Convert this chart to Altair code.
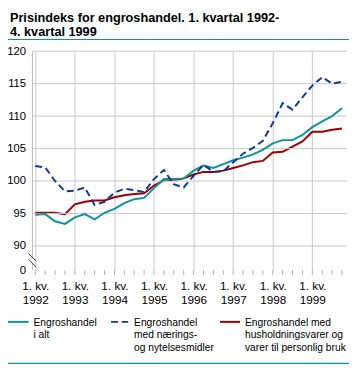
import altair as alt
import pandas as pd

# ---- data (quarterly, 1. kv. 1992 - 4. kv. 1999) ----
quarters = list(range(32))
i_alt = [94.8, 94.9, 93.8, 93.4, 94.4, 94.9, 94.1, 95.1,
         95.7, 96.6, 97.2, 97.4, 98.9, 100.3, 100.3, 100.4,
         101.6, 102.4, 102.0, 102.6, 103.2, 103.6, 104.1, 104.8,
         105.8, 106.3, 106.3, 107.1, 108.3, 109.2, 110.0, 111.2]
naering = [102.3, 102.1, 100.0, 98.4, 98.5, 99.0, 96.3, 96.8,
           98.2, 98.8, 98.6, 98.3, 100.3, 101.7, 99.5, 99.0,
           100.8, 102.5, 101.4, 101.5, 102.9, 104.2, 105.1, 106.2,
           108.9, 112.0, 111.0, 112.9, 114.7, 116.0, 115.0, 115.3]
husholdning = [95.1, 95.1, 95.1, 94.9, 96.4, 96.8, 97.0, 97.0,
               97.5, 97.8, 98.0, 98.1, 99.3, 100.1, 100.1, 100.4,
               101.0, 101.4, 101.4, 101.6, 102.0, 102.4, 102.9, 103.1,
               104.4, 104.5, 105.3, 106.1, 107.6, 107.6, 107.9, 108.1]

legend_lines = [["Engroshandel", "i alt"],
                ["Engroshandel", "med nærings-", "og nytelsesmidler"],
                ["Engroshandel med", "husholdningsvarer og", "varer til personlig bruk"]]
title_lines = ["Prisindeks for engroshandel. 1. kvartal 1992-", "4. kvartal 1999"]
year_ticks = [0, 4, 8, 12, 16, 20, 24, 28]
y_ticks = [90, 95, 100, 105, 110, 115, 120]
Y_BREAK = 86.27  # drawn as "0" below the axis break

TEAL, BLUE, RED = "#0a9696", "#0b3a9a", "#9c0000"
GRID = "#c8c8c8"
FONT = "Liberation Sans"

W, H = 322, 224

xscale = alt.Scale(domain=[-0.29, 31.51], nice=False, zero=False)
yscale = alt.Scale(domain=[Y_BREAK, 120], nice=False, zero=False)

df = pd.DataFrame({"q": quarters, "i_alt": i_alt, "naering": naering, "hush": husholdning})
one = pd.DataFrame({"a": [0]})

x_axis = alt.Axis(values=year_ticks, grid=True, gridColor=GRID, gridWidth=1,
                  domain=False, ticks=False, tickSize=0, title=None,
                  labelExpr="['1. kv.', '' + (1992 + datum.value / 4)]",
                  labelFont=FONT, labelFontSize=12, labelColor="#000000",
                  labelBaseline="alphabetic", labelPadding=20, labelLineHeight=14,
                  labelAlign="center")
y_axis = alt.Axis(values=[Y_BREAK] + y_ticks, grid=False, domain=False, ticks=False,
                  tickSize=0, title=None,
                  labelExpr="datum.value < 87 ? '0' : datum.label",
                  labelFont=FONT, labelFontSize=11.5, labelColor="#000000",
                  labelPadding=7)

def X(field):
    return alt.X(field, scale=xscale, axis=x_axis, title=None)

def Y(field):
    return alt.Y(field, scale=yscale, axis=y_axis, title=None)

base = alt.Chart(df)

red_line = base.mark_line(color=RED, strokeWidth=2).encode(x=X("q:Q"), y=Y("hush:Q"))
teal_line = base.mark_line(color=TEAL, strokeWidth=2).encode(x=X("q:Q"), y=Y("i_alt:Q"))
blue_line = base.mark_line(color=BLUE, strokeWidth=2, strokeDash=[7, 4]).encode(
    x=X("q:Q"), y=Y("naering:Q"))

hgrid = alt.Chart(pd.DataFrame({"v": y_ticks})).mark_rule(color=GRID, strokeWidth=1).encode(
    y=Y("v:Q"))
qticks = alt.Chart(pd.DataFrame({"q": quarters})).mark_rule(color="#b0b0b0", strokeWidth=1).encode(
    x=X("q:Q"), y=alt.value(H), y2=alt.value(H + 5))

def seg(x1, y1, x2, y2, color, width=1, dash=None):
    kw = dict(color=color, strokeWidth=width)
    if dash:
        kw["strokeDash"] = dash
    return alt.Chart(one).mark_rule(**kw).encode(
        x=alt.value(x1), y=alt.value(y1), x2=alt.value(x2), y2=alt.value(y2))

def txt(lines, x, y, size, bold=False, lh=13):
    return alt.Chart(one).mark_text(text=lines, align="left", baseline="alphabetic",
                                    font=FONT, fontSize=size, lineHeight=lh,
                                    fontWeight="bold" if bold else "normal",
                                    color="#000000").encode(
        x=alt.value(x), y=alt.value(y))

axis_parts = [
    seg(0, 0, 0, 211, "#b8b8b8"),
    seg(0, 217, 0, H, "#b8b8b8"),
    seg(-4, 207, 4, 215, "#333333"),
    seg(-4, 213, 4, 221, "#333333"),
]

decor = [
    txt(title_lines, -23, -30, 13, bold=True, lh=14),
    seg(-25, -12, 324, -12, TEAL, 1.2),
    seg(-25, 319.5, 324, 319.5, TEAL, 1.2),
    seg(-25, 277, -4, 277, TEAL, 2),
    txt(legend_lines[0], 1, 281, 10.5),
    seg(80.5, 277, 98, 277, BLUE, 2, [7, 4]),
    txt(legend_lines[1], 104, 281, 10.5),
    seg(192, 277, 212.5, 277, RED, 2),
    txt(legend_lines[2], 217.5, 281, 10.5),
]

chart = alt.layer(red_line, hgrid, qticks, *axis_parts, teal_line, blue_line, *decor).properties(
    width=W, height=H,
    autosize=alt.AutoSizeParams(type="none"),
    padding={"left": 25, "top": 40, "right": 2, "bottom": 98},
).configure_view(stroke=None)

chart.save("out.html", embed_options={"renderer": "svg", "actions": False})
